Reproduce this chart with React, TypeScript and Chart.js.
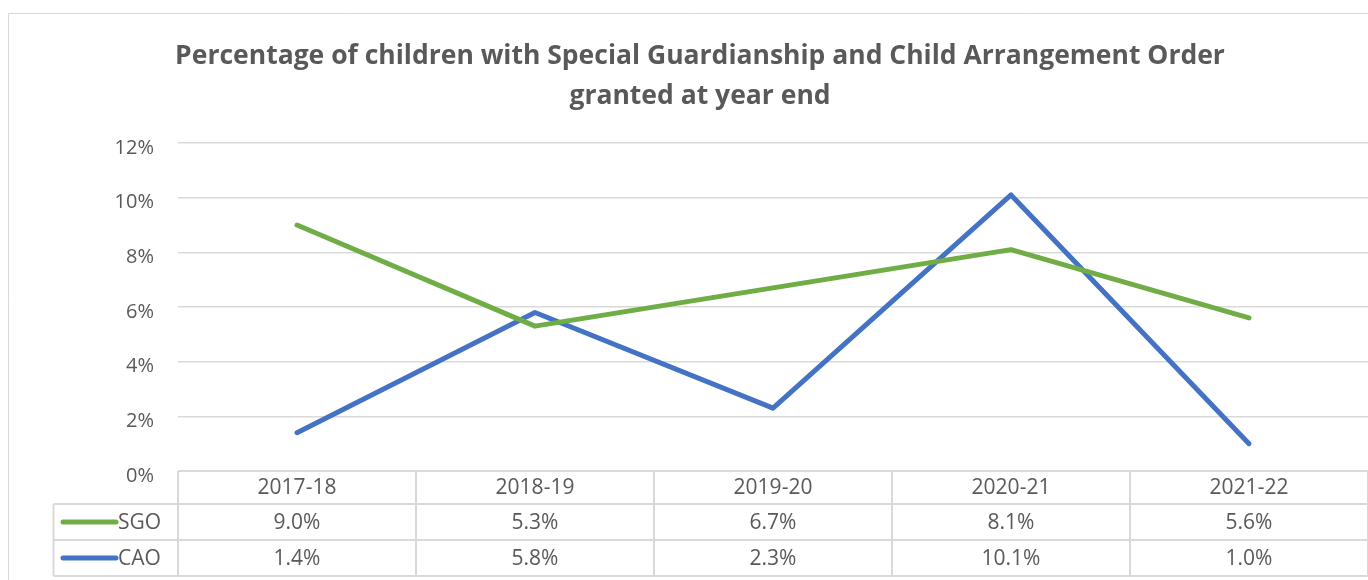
import React, { useEffect, useRef } from "react";
import { Chart, registerables } from "chart.js";

Chart.register(...registerables);

const categories = ["2017-18", "2018-19", "2019-20", "2020-21", "2021-22"];
const sgoValues = [9.0, 5.3, 6.7, 8.1, 5.6];
const caoValues = [1.4, 5.8, 2.3, 10.1, 1.0];
const seriesNames = ["SGO", "CAO"];
const titleLines = [
  "Percentage of children with Special Guardianship and Child Arrangement Order",
  "granted at year end",
];
const yTicks = [0, 2, 4, 6, 8, 10, 12];

const GREEN = "#70AD47";
const BLUE = "#4472C4";
const TEXT = "#595959";
const GRID = "#d9d9d9";
const FONT = "'Open Sans', sans-serif";

const tablePlugin = {
  id: "excelTable",
  afterDraw(chart: any) {
    const ctx = chart.ctx as CanvasRenderingContext2D;
    const area = chart.chartArea;
    const xs = chart.scales.x;
    const W = chart.width;
    const H = chart.height;
    ctx.save();
    // outer border
    ctx.strokeStyle = GRID;
    ctx.lineWidth = 1;
    ctx.beginPath();
    ctx.moveTo(8.5, H + 1);
    ctx.lineTo(8.5, 13.5);
    ctx.lineTo(W + 1, 13.5);
    ctx.stroke();

    // title
    ctx.fillStyle = TEXT;
    ctx.font = `bold 26.5px ${FONT}`;
    ctx.textAlign = "center";
    ctx.textBaseline = "middle";
    titleLines.forEach((t, i) => ctx.fillText(t, 700, 56 + i * 40));

    // table
    const top = area.bottom;
    const rowTops = [top, top + 33, top + 69, top + 105];
    const legendLeft = 53.5;
    const n = categories.length;
    const bandW = (area.right - area.left) / n;
    ctx.strokeStyle = GRID;
    ctx.lineWidth = 2;
    ctx.beginPath();
    ctx.moveTo(area.left, top);
    ctx.lineTo(W, top);
    for (let r = 1; r <= 3; r++) {
      const y = rowTops[r];
      ctx.moveTo(legendLeft, y);
      ctx.lineTo(W, y);
    }
    ctx.moveTo(legendLeft, rowTops[1]);
    ctx.lineTo(legendLeft, rowTops[3]);
    for (let i = 0; i <= n; i++) {
      const x = area.left + i * bandW;
      ctx.moveTo(x, top);
      ctx.lineTo(x, rowTops[3]);
    }
    ctx.stroke();

    const mid = (r: number) => (rowTops[r] + rowTops[r + 1]) / 2 + 1;
    ctx.font = `21px ${FONT}`;
    ctx.fillStyle = TEXT;
    ctx.textAlign = "center";
    categories.forEach((c, i) => {
      const x = xs.getPixelForValue(i);
      ctx.fillText(c, x, mid(0));
      ctx.fillText(sgoValues[i].toFixed(1) + "%", x, mid(1));
      ctx.fillText(caoValues[i].toFixed(1) + "%", x, mid(2));
    });

    const colors = [GREEN, BLUE];
    seriesNames.forEach((s, r) => {
      const y = mid(r + 1) - 1;
      ctx.strokeStyle = colors[r];
      ctx.lineWidth = 5;
      ctx.lineCap = "round";
      ctx.beginPath();
      ctx.moveTo(63, y);
      ctx.lineTo(116, y);
      ctx.stroke();
      ctx.textAlign = "left";
      ctx.fillStyle = TEXT;
      ctx.fillText(s, 118, y + 1);
    });
    ctx.restore();
  },
};

export default function App() {
  const ref = useRef<HTMLCanvasElement>(null);
  useEffect(() => {
    if (!ref.current) return;
    const chart = new Chart(ref.current, {
      type: "line",
      data: {
        labels: categories,
        datasets: [
          {
            label: seriesNames[0],
            data: sgoValues,
            borderColor: GREEN,
            backgroundColor: GREEN,
            borderWidth: 5,
            pointRadius: 0,
            borderCapStyle: "round",
            borderJoinStyle: "round",
            tension: 0,
          },
          {
            label: seriesNames[1],
            data: caoValues,
            borderColor: BLUE,
            backgroundColor: BLUE,
            borderWidth: 5,
            pointRadius: 0,
            borderCapStyle: "round",
            borderJoinStyle: "round",
            tension: 0,
          },
        ],
      },
      options: {
        animation: false,
        responsive: true,
        maintainAspectRatio: false,
        layout: { padding: { left: 0, right: 0, top: 143, bottom: 109 } },
        plugins: {
          legend: { display: false },
          title: { display: false },
          tooltip: { enabled: false },
        },
        scales: {
          x: {
            type: "category",
            display: false,
            offset: true,
          },
          y: {
            min: 0,
            max: 12,
            afterFit: (s: any) => {
              s.width = 178;
            },
            afterBuildTicks: (s: any) => {
              s.ticks = yTicks.map((v) => ({ value: v }));
            },
            border: { display: false },
            grid: { color: GRID, lineWidth: 1.5, drawTicks: false },
            ticks: {
              padding: 24,
              labelOffset: 5,
              color: TEXT,
              font: { family: FONT, size: 20 },
              callback: (v: any) => v + "%",
            },
          },
        },
      },
      plugins: [tablePlugin],
    });
    return () => chart.destroy();
  }, []);
  return (
    <div style={{ position: "fixed", left: 0, top: 0, width: 1368, height: 580, background: "#fff" }}>
      <canvas ref={ref} />
    </div>
  );
}
